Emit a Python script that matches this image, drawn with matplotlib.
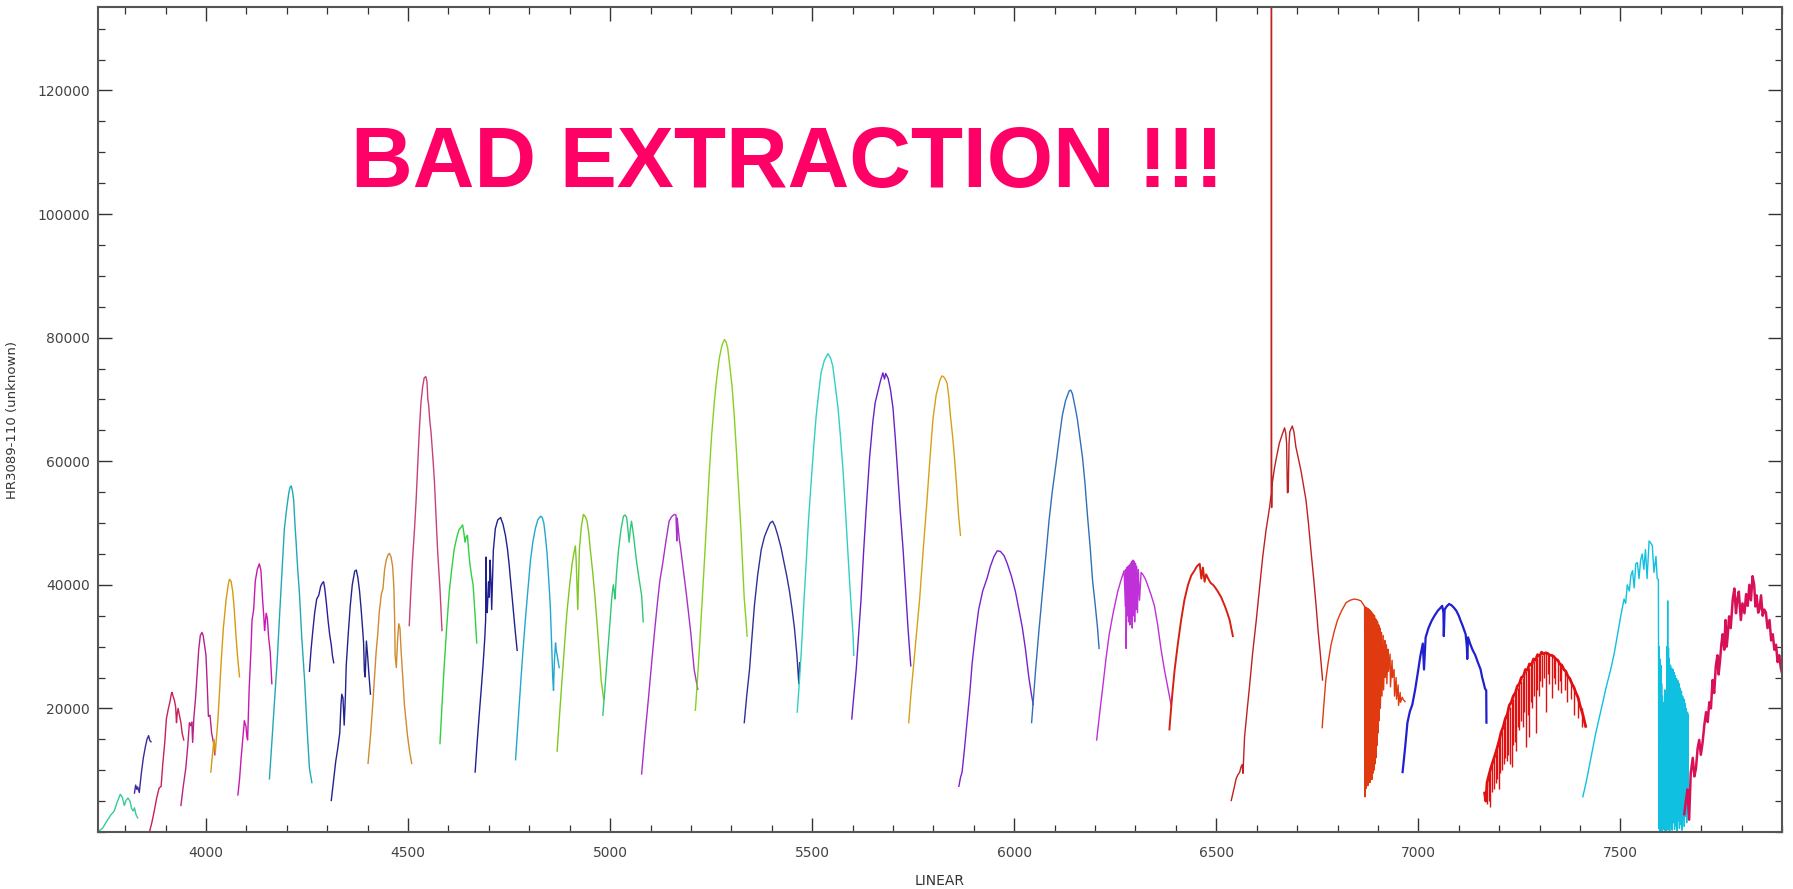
#!/usr/bin/env python
# -*- coding: utf-8 -*-

import matplotlib
matplotlib.use("Agg")
import matplotlib.pyplot as plt
from matplotlib.ticker import MultipleLocator

# ordenes echelle extraidos: longitud de onda (A) y cuentas

o01_w = [3733, 3745, 3755, 3765, 3773, 3780, 3788, 3793, 3798, 3802, 3807, 3812, 3816, 3820, 3823, 3827, 3831]
o01_f = [0, 700, 1800, 2800, 3400, 4800, 6100, 5600, 4300, 5100, 5500, 5000, 3800, 3400, 3900, 2800, 2300]

o02_w = [3823, 3826, 3829, 3831, 3835, 3840, 3845, 3850, 3854, 3858, 3861, 3864]
o02_f = [6300, 7600, 6900, 7300, 6400, 9500, 12000, 13800, 15000, 15600, 14800, 14600]

o03_w = [3860, 3866, 3872, 3878, 3884, 3889, 3893, 3898, 3902, 3907, 3911, 3914, 3916, 3919, 3922, 3925,
         3927, 3929, 3931, 3934, 3938, 3941, 3945]
o03_f = [0, 1500, 3400, 5500, 7100, 7400, 10900, 14500, 18300, 20000, 21100, 22300, 22600, 21900, 21300, 20200,
         17700, 19200, 20000, 19000, 17700, 16000, 14900]

o04_w = [3938, 3944, 3950, 3955, 3959, 3962, 3965, 3967, 3970, 3974, 3978, 3982, 3986, 3990, 3993, 3997,
         4000, 4003, 4006, 4010, 4014, 4019, 4022]
o04_f = [4300, 7500, 10300, 14000, 17700, 17200, 17800, 14500, 18500, 21500, 25500, 29500, 31800, 32300, 31800, 30000,
         28600, 24000, 18700, 18900, 16000, 14300, 12500]

o05_w = [4012, 4016, 4020, 4023, 4025, 4029, 4033, 4037, 4043, 4050, 4055, 4058, 4062, 4066, 4070, 4074, 4078, 4083]
o05_f = [9700, 12500, 15000, 12800, 14500, 17700, 22000, 26900, 33000, 37700, 40000, 40900, 40600, 39000, 36000,
         32000, 28500, 25100]

o06_w = [4079, 4083, 4087, 4091, 4095, 4097, 4099, 4101, 4103, 4107, 4111, 4114, 4118, 4122, 4127, 4132, 4136,
         4138, 4140, 4143, 4145, 4147, 4149, 4152, 4155, 4159, 4163]
o06_f = [6000, 8500, 12000, 15000, 18000, 17500, 17100, 15500, 14900, 23400, 29000, 34300, 36000, 40600, 42500,
         43400, 42300, 40000, 37700, 35000, 32600, 34000, 35400, 34500, 31500, 29100, 24000]

o07_w = [4157, 4163, 4169, 4176, 4182, 4188, 4194, 4200, 4205, 4208, 4211, 4214, 4217, 4220, 4223, 4227, 4231,
         4237, 4244, 4250, 4256, 4262]
o07_f = [8600, 14500, 20600, 27500, 34900, 42000, 49100, 52500, 54900, 55800, 56000, 55200, 53700, 50000, 46900,
         42500, 38900, 31500, 24600, 17000, 10300, 8000]

o08_w = [4256, 4260, 4264, 4269, 4274, 4279, 4284, 4288, 4291, 4294, 4298, 4302, 4306, 4310, 4313, 4316]
o08_f = [26000, 29500, 32300, 35500, 37700, 38300, 39800, 40300, 40500, 39400, 37000, 34300, 32000, 30300, 28500,
         27400]

o09_w = [4310, 4316, 4321, 4326, 4331, 4334, 4336, 4339, 4342, 4345, 4347, 4352, 4357, 4362, 4368, 4372, 4376,
         4380, 4384, 4388, 4390, 4392, 4394, 4397, 4400, 4403, 4407]
o09_f = [5100, 8500, 11400, 13500, 16000, 20500, 22300, 21700, 17300, 22000, 26900, 32000, 36600, 40000, 42200,
         42400, 41100, 39000, 36000, 32500, 30600, 26000, 25100, 30900, 28500, 25700, 22300]

o10_w = [4401, 4407, 4412, 4417, 4421, 4425, 4429, 4434, 4438, 4442, 4446, 4450, 4454, 4458, 4462, 4465, 4467,
         4468, 4471, 4474, 4477, 4480, 4483, 4487, 4491, 4495, 4499, 4504, 4509]
o10_f = [11100, 15500, 20000, 25000, 29100, 32000, 35700, 38500, 39400, 42500, 44000, 44800, 45100, 44500, 42900,
         39500, 34000, 28600, 26600, 31000, 33700, 33000, 29100, 25000, 20600, 18000, 15400, 13000, 11100]

o11_w = [4503, 4507, 4511, 4516, 4520, 4524, 4528, 4532, 4536, 4540, 4544, 4547, 4549, 4551, 4554, 4557, 4561,
         4565, 4569, 4573, 4576, 4579, 4584]
o11_f = [33400, 39000, 44000, 49000, 53700, 59500, 65100, 69500, 72000, 73500, 73700, 72800, 70000, 69100, 66500,
         64600, 61000, 57100, 51500, 45700, 42500, 39400, 32600]

o12_w = [4579, 4584, 4589, 4595, 4602, 4608, 4614, 4620, 4626, 4631, 4635, 4638, 4641, 4644, 4647, 4650, 4653,
         4657, 4661, 4666, 4670]
o12_f = [14300, 20500, 26300, 32500, 38900, 42500, 45700, 47500, 48900, 49300, 49700, 48500, 46900, 47800, 48000,
         45500, 43400, 41500, 40000, 35000, 30600]

o13_w = [4666, 4671, 4676, 4681, 4686, 4690, 4692, 4693, 4694, 4696, 4699, 4701, 4703, 4705, 4707, 4711, 4716,
         4722, 4729, 4735, 4741, 4746, 4750, 4754, 4758, 4762, 4766, 4770]
o13_f = [9700, 14500, 18900, 23000, 27400, 31500, 34300, 44500, 37000, 35500, 40500, 38000, 44000, 41000, 36000,
         45500, 49100, 50500, 50900, 49800, 48000, 45800, 43400, 40500, 37700, 34800, 32000, 29400]

o14_w = [4766, 4772, 4778, 4784, 4791, 4797, 4803, 4809, 4815, 4821, 4828, 4832, 4836, 4840, 4844, 4848, 4852,
         4856, 4858, 4860, 4862, 4865, 4867, 4869, 4871, 4874]
o14_f = [11700, 17500, 23400, 29000, 34900, 39500, 44000, 47000, 49100, 50500, 51100, 50900, 50000, 47800, 45100,
         41000, 36600, 29100, 25000, 22900, 27500, 30600, 29300, 28600, 27800, 26600]

o15_w = [4869, 4875, 4881, 4887, 4893, 4900, 4906, 4910, 4914, 4916, 4918, 4920, 4922, 4924, 4929, 4934, 4939,
         4943, 4947, 4951, 4957, 4963, 4968, 4973, 4978, 4984]
o15_f = [13100, 19000, 24600, 30000, 35400, 40000, 43400, 45000, 46300, 44000, 40000, 36000, 41000, 45700, 49500,
         51400, 51000, 50300, 48500, 45700, 42000, 37700, 33500, 29100, 24500, 21500]

o16_w = [4982, 4987, 4992, 4998, 5004, 5006, 5008, 5010, 5012, 5016, 5021, 5027, 5033, 5037, 5041, 5044, 5047,
         5050, 5053, 5058, 5062, 5066, 5070, 5074, 5078, 5082]
o16_f = [18900, 23000, 27400, 32500, 37700, 39000, 40000, 39000, 37700, 42000, 45700, 49000, 51100, 51300, 50900,
         49000, 46900, 49000, 50300, 48000, 45700, 43500, 41700, 40000, 38300, 34000]

o17_w = [5078, 5086, 5095, 5103, 5111, 5117, 5123, 5130, 5138, 5146, 5152, 5159, 5163, 5165, 5166, 5168, 5171,
         5175, 5181, 5188, 5194, 5200, 5204, 5208, 5213, 5217]
o17_f = [9400, 15500, 21700, 27500, 33100, 37000, 40600, 43400, 47000, 50300, 51000, 51400, 51300, 47100, 50800,
         49500, 47500, 45700, 42500, 38900, 35500, 32000, 29000, 26300, 24500, 23100]

o18_w = [5211, 5216, 5221, 5227, 5233, 5239, 5245, 5251, 5258, 5264, 5270, 5277, 5283, 5287, 5291, 5296, 5302,
         5307, 5312, 5318, 5324, 5328, 5332, 5336, 5339]
o18_f = [19700, 24500, 29700, 36500, 43400, 50500, 57700, 64000, 69700, 73500, 76600, 78800, 79700, 79300, 78300,
         75500, 72000, 67500, 62300, 55500, 48600, 43000, 37700, 34500, 31700]

o19_w = [5332, 5338, 5345, 5351, 5357, 5365, 5374, 5382, 5390, 5396, 5402, 5408, 5415, 5423, 5431, 5437, 5444,
         5450, 5456, 5462, 5467, 5469]
o19_f = [17700, 22000, 26300, 31500, 36600, 41500, 45700, 47800, 49100, 50000, 50300, 49500, 48000, 46000, 43400,
         41500, 38900, 36200, 33100, 28800, 24000, 27400]

o20_w = [5463, 5468, 5473, 5479, 5485, 5491, 5498, 5504, 5510, 5516, 5522, 5530, 5539, 5545, 5551, 5557, 5564,
         5570, 5576, 5582, 5588, 5594, 5601, 5603]
o20_f = [19400, 24000, 29100, 36500, 43400, 50500, 57100, 62500, 67400, 71000, 74300, 76300, 77400, 76800, 75400,
         72300, 68600, 64000, 58900, 52500, 45700, 39000, 32000, 28600]

o21_w = [5598, 5603, 5609, 5615, 5621, 5627, 5634, 5642, 5650, 5656, 5663, 5669, 5675, 5679, 5682, 5688, 5694,
         5700, 5706, 5712, 5718, 5725, 5731, 5737, 5744]
o21_f = [18300, 22000, 26300, 32000, 37700, 45000, 52600, 60500, 66300, 69500, 71400, 73000, 74300, 73300, 74200,
         73400, 71500, 68600, 63500, 57700, 51800, 45700, 39500, 33100, 26900]

o22_w = [5739, 5744, 5750, 5758, 5766, 5774, 5783, 5791, 5799, 5807, 5816, 5821, 5825, 5830, 5834, 5838, 5842,
         5846, 5850, 5854, 5858, 5862, 5867]
o22_f = [17700, 22000, 26300, 32000, 37700, 45000, 52600, 60000, 66900, 70800, 73100, 73800, 73700, 73200, 72600,
         70500, 67400, 65000, 62300, 59000, 55400, 51500, 48000]

o23_w = [5863, 5867, 5871, 5877, 5883, 5890, 5896, 5904, 5912, 5922, 5933, 5941, 5950, 5958, 5966, 5975, 5983,
         5993, 6003, 6011, 6020, 6028, 6036, 6042, 6047]
o23_f = [7400, 8800, 9700, 13500, 17700, 22500, 27400, 32000, 36000, 39000, 41100, 43000, 44600, 45500, 45400,
         44700, 43400, 41400, 38900, 36200, 33100, 29500, 25100, 22500, 20600]

o24_w = [6043, 6048, 6053, 6061, 6070, 6078, 6086, 6094, 6103, 6111, 6119, 6127, 6136, 6140, 6144, 6150, 6156,
         6162, 6169, 6175, 6181, 6188, 6194, 6200, 6206, 6210]
o24_f = [17700, 22000, 26300, 32500, 38900, 44500, 50300, 55000, 59400, 63500, 67400, 69800, 71400, 71500, 70900,
         69000, 66900, 64000, 60600, 56500, 51400, 46000, 40600, 37000, 33100, 29700]

o25_w = [6204, 6211, 6219, 6227, 6235, 6245, 6256, 6264, 6272, 6275, 6276, 6277, 6279, 6280, 6282, 6283, 6285,
         6286, 6288, 6289, 6291, 6292, 6294, 6295, 6297, 6298, 6300, 6301, 6303, 6305, 6307, 6310, 6314, 6318,
         6324, 6330, 6338, 6347, 6355, 6363, 6371, 6380, 6388]
o25_f = [14900, 19000, 23400, 28000, 32000, 35500, 38900, 40700, 42300, 36500, 42500, 29700, 42800, 35000, 43000,
         34000, 43200, 33500, 43500, 34500, 43800, 33000, 44000, 35000, 43800, 34000, 43500, 36000, 43000, 35500,
         42500, 37500, 42000, 41700, 41000, 40000, 38500, 36600, 33500, 29700, 26500, 23400, 20600]

o26_w = [6384, 6390, 6397, 6405, 6413, 6421, 6430, 6438, 6446, 6452, 6459, 6463, 6467, 6471, 6475, 6480, 6486,
         6492, 6498, 6504, 6512, 6521, 6527, 6533, 6541]
o26_f = [16600, 21500, 26300, 30500, 34300, 37500, 40000, 41500, 42300, 43000, 43400, 41000, 42800, 40500, 41700,
         41000, 40300, 40000, 39500, 38900, 38000, 36600, 35500, 34300, 31700]

# orden con H-alfa y el pixel malo en 6636
o27_w = [6537, 6543, 6549, 6553, 6558, 6561, 6564, 6566, 6570, 6576, 6582, 6590, 6599, 6607, 6615, 6623, 6632,
         6636, 6636.5, 6637, 6637.5, 6644, 6650, 6656, 6663, 6669, 6672, 6674, 6676, 6678, 6680, 6682, 6688, 6692,
         6697, 6703, 6710, 6716, 6722, 6728, 6734, 6741, 6747, 6752, 6757, 6763]
o27_f = [5100, 6800, 8600, 9200, 9700, 10500, 10900, 9500, 15400, 19500, 23400, 29000, 34300, 39500, 44600, 48800,
         52600, 54800, 133500, 52500, 56000, 58900, 61000, 62900, 64300, 65400, 64500, 62900, 54900, 55000, 62900,
         64800, 65700, 64800, 62300, 60500, 58300, 56000, 53700, 50000, 45700, 41000, 36600, 32500, 29100, 24600]

# banda B del O2
o28_w = [6762, 6766, 6771, 6777, 6784, 6792, 6800, 6810, 6821, 6831, 6841, 6850, 6858, 6862, 6866,
         6867, 6868, 6869, 6870, 6871.5, 6872.5, 6874, 6875, 6876.5, 6877.5, 6879, 6880, 6881.5, 6882.5, 6884,
         6885, 6886.5, 6887.5, 6889, 6890, 6891.5, 6892.5, 6894, 6895, 6896.5, 6897.5, 6899, 6900, 6902, 6903,
         6905, 6906, 6909, 6910, 6913, 6914, 6917, 6918, 6921, 6922, 6925, 6926, 6930, 6931, 6935, 6936, 6940,
         6941, 6945, 6946, 6950, 6951, 6955, 6956, 6960, 6963, 6967]
o28_f = [16900, 20500, 24600, 27500, 30300, 32500, 34300, 35800, 37100, 37500, 37700, 37600, 37400, 37000, 36600,
         36500, 5700, 36400, 7000, 36300, 8000, 36200, 7500, 36100, 8500, 36000, 8000, 35800, 9000, 35600,
         8500, 35400, 9500, 35200, 10000, 35000, 11000, 34500, 12000, 34300, 14000, 34000, 16000, 33500, 18000,
         33000, 20000, 32300, 22000, 31800, 23000, 31000, 25000, 30300, 24000, 29600, 26000, 28800, 23500, 27800,
         25000, 26300, 22000, 25000, 21500, 23800, 20500, 22600, 21000, 21800, 21400, 21100]

o29_w = [6961, 6967, 6973, 6979, 6985, 6992, 6998, 7005, 7011, 7014, 7018, 7025, 7033, 7040, 7048, 7055, 7059,
         7062, 7063, 7065, 7070, 7076, 7082, 7088, 7094, 7100, 7104, 7110, 7117, 7120, 7121, 7123, 7128, 7134,
         7141, 7147, 7154, 7158, 7162, 7165, 7168, 7168.5]
o29_f = [9700, 13500, 17700, 19500, 20600, 23000, 25500, 28500, 30500, 26300, 31500, 33000, 34200, 35000, 35800,
         36300, 36600, 35500, 31700, 36000, 36500, 36900, 36700, 36300, 35800, 35000, 34300, 33300, 32000, 30000,
         28000, 31500, 30500, 29500, 28600, 27500, 26300, 25000, 24000, 23200, 22900, 17700]

o30_w = [7164, 7167, 7170, 7175, 7180, 7185, 7190, 7195, 7200, 7205, 7210, 7215, 7220, 7225, 7230, 7235, 7240,
         7245, 7250, 7255, 7260, 7265, 7270, 7275, 7280, 7285, 7290, 7295, 7300, 7305, 7310, 7315, 7320, 7325,
         7330, 7335, 7340, 7345, 7350, 7355, 7360, 7365, 7370, 7375, 7380, 7385, 7390, 7395, 7400, 7407, 7414]
o30_f = [6300, 5000, 8000, 9300, 10500, 11500, 12500, 13600, 14800, 16200, 17000, 18300, 19000, 20500, 21000,
         22000, 22500, 23600, 24000, 25000, 25200, 26300, 26200, 27200, 27000, 28000, 27800, 28700, 28400, 29100,
         28800, 29000, 28900, 28600, 28600, 28400, 28000, 27800, 27200, 27000, 26300, 26000, 25200, 24800, 24000,
         23400, 22500, 21800, 20500, 19000, 17100]

# lineas teluricas de H2O en el orden 30: posicion, tope y fondo
h2o_w = [7170, 7175, 7178, 7183, 7187, 7191, 7195, 7199, 7203, 7207, 7211, 7215, 7219, 7223, 7227, 7231, 7235,
         7239, 7242, 7246, 7250, 7254, 7258, 7262, 7267, 7271, 7274, 7278, 7282, 7286, 7290, 7294, 7298, 7302,
         7305, 7310, 7317, 7321, 7324, 7331, 7335, 7338, 7346, 7350, 7354, 7362, 7369, 7378, 7386, 7395, 7405]
h2o_tope = [8000, 9300, 10000, 11000, 11800, 12700, 13600, 14600, 15500, 16400, 17200, 18000, 18800, 19600, 20300,
            21000, 21500, 22300, 22800, 23300, 24000, 24500, 25000, 25500, 26000, 26400, 26600, 27000, 27300,
            27600, 27800, 28100, 28300, 28500, 28600, 28800, 28900, 28900, 28800, 28600, 28400, 28200, 27700,
            27200, 26800, 26000, 25400, 24200, 23000, 21800, 20000]
h2o_fondo = [4500, 5000, 4000, 6500, 7000, 8000, 8500, 6900, 9500, 10000, 11000, 12000, 11500, 12500, 11000,
             10600, 14000, 14500, 13100, 17000, 16500, 18000, 17000, 19500, 13700, 19000, 15400, 21000, 20000,
             22000, 16000, 23000, 22000, 24500, 23500, 25000, 19400, 25500, 24000, 21700, 25000, 24000, 23000,
             24500, 22500, 23000, 21100, 21500, 19000, 18500, 17000]

# banda A del O2
o31_w = [7407, 7415, 7422, 7430, 7439, 7447, 7455, 7465, 7476, 7485, 7493, 7501, 7509, 7513, 7517, 7522, 7526,
         7530, 7534, 7538, 7542, 7546, 7550, 7554, 7558, 7562, 7566, 7571, 7575, 7579, 7583, 7588, 7591, 7594,
         7595, 7596, 7597, 7598, 7599, 7600, 7601, 7602, 7603, 7604, 7605, 7606, 7607, 7608, 7609, 7610, 7611,
         7612, 7613, 7615, 7616, 7617, 7618, 7619, 7620, 7621, 7622, 7624, 7625, 7627, 7628, 7630, 7631, 7633,
         7634, 7636, 7637, 7639, 7640, 7642, 7643, 7645, 7646, 7648, 7649, 7651, 7652, 7654, 7655, 7657, 7658,
         7660, 7661, 7663, 7664, 7666, 7667, 7668]
o31_f = [5700, 8000, 10300, 13000, 16000, 18300, 20600, 23500, 26300, 29000, 32000, 35000, 37700, 37000, 40000,
         39000, 41500, 42300, 39500, 43400, 43600, 41000, 44000, 45000, 42500, 45700, 41000, 47100, 46800, 46300,
         42000, 44600, 41000, 40900,
         600, 30000, 200, 28000, 300, 27000, 800, 24000, 100, 22000, 1500, 20000, 500, 21000, 300, 23000, 900,
         21000, 200, 30000, 600, 37400, 300, 29700, 1200, 28000, 200, 27000, 800, 26500, 300, 26300, 1500, 25800,
         400, 25300, 1000, 24800, 200, 24500, 1800, 24000, 600, 23300, 1200, 22800, 300, 22000, 2000, 21500, 900,
         20800, 2500, 20000, 1500, 19400, 3000, 19000]

o32_w = [7658, 7662, 7666, 7670, 7674, 7679, 7683, 7687, 7691, 7695, 7699, 7703, 7708, 7712, 7716, 7720, 7724,
         7728, 7732, 7736, 7740, 7743, 7746, 7750, 7753, 7757, 7760, 7763, 7765, 7769, 7773, 7778, 7782, 7786,
         7789, 7793, 7798, 7802, 7807, 7811, 7815, 7819, 7823, 7827, 7831, 7834, 7837, 7841, 7844, 7848, 7852,
         7856, 7860, 7864, 7869, 7873, 7877, 7881, 7885, 7889, 7893, 7897, 7900]
o32_f = [2900, 5000, 6900, 2000, 9500, 12000, 9000, 10300, 13500, 14900, 12500, 14300, 17500, 19400, 17800,
         21000, 20000, 24600, 22500, 26800, 28600, 25500, 27400, 30500, 32000, 29500, 34300, 30000, 31400, 34900,
         33000, 37700, 39400, 35400, 37500, 38900, 34300, 37000, 35400, 38500, 36600, 40000, 37500, 41400, 40000,
         36500, 38300, 35500, 36000, 38300, 35000, 36000, 35500, 33000, 34300, 31000, 32000, 29500, 30300, 27500,
         28600, 26500, 25700]

colores = ["#33cc99", "#3a2a9a", "#c8205a", "#b8208a", "#d89a10", "#c818b0", "#20a8b8", "#2a1e9a",
           "#23238c", "#d08a30", "#c8407a", "#30d040", "#202090", "#20a8d0", "#80c820", "#30c878",
           "#a830c8", "#88d020", "#303098", "#30d0c0", "#6a20c8", "#d8a018", "#7a20d0", "#3070b8",
           "#c030d8", "#d82010", "#c02020", "#e03a10", "#2020d0", "#e01010", "#10c0e0", "#d81058"]

# los ordenes mas ruidosos se ven mas gruesos
grosores = [1.0] * 25 + [1.4, 1.0, 1.0, 1.6, 2.0, 1.0, 1.8]


def grafica_ordenes(ruta_salida):
    ordenes = [(o01_w, o01_f), (o02_w, o02_f), (o03_w, o03_f), (o04_w, o04_f),
               (o05_w, o05_f), (o06_w, o06_f), (o07_w, o07_f), (o08_w, o08_f),
               (o09_w, o09_f), (o10_w, o10_f), (o11_w, o11_f), (o12_w, o12_f),
               (o13_w, o13_f), (o14_w, o14_f), (o15_w, o15_f), (o16_w, o16_f),
               (o17_w, o17_f), (o18_w, o18_f), (o19_w, o19_f), (o20_w, o20_f),
               (o21_w, o21_f), (o22_w, o22_f), (o23_w, o23_f), (o24_w, o24_f),
               (o25_w, o25_f), (o26_w, o26_f), (o27_w, o27_f), (o28_w, o28_f),
               (o29_w, o29_f), (o30_w, o30_f), (o31_w, o31_f), (o32_w, o32_f)]

    fig = plt.figure(figsize=(17.93, 8.89), dpi=100)
    ax = fig.add_axes([0.0547, 0.0641, 0.9392, 0.928])

    for (onda, cuentas), color, grosor in zip(ordenes, colores, grosores):
        ax.plot(onda, cuentas, color=color, linewidth=grosor)

    ax.vlines(h2o_w, h2o_fondo, h2o_tope, color=colores[29], linewidth=1.0)

    # los limites salen de los propios datos
    ax.margins(0)

    ax.set_xticks(range(4000, 7501, 500))
    ax.set_yticks(range(20000, 120001, 20000))
    ax.xaxis.set_minor_locator(MultipleLocator(100))
    ax.yaxis.set_minor_locator(MultipleLocator(5000))
    ax.tick_params(which="both", direction="in", top=True, right=True,
                   color="#333333", labelcolor="#444444", labelsize=10)
    ax.tick_params(which="major", length=10, width=1.0)
    ax.tick_params(which="minor", length=5, width=0.9)
    ax.tick_params(axis="x", which="major", pad=10)
    ax.tick_params(axis="y", which="major", pad=6)

    for lado in ax.spines.values():
        lado.set_color("#555555")
        lado.set_linewidth(1.5)

    ax.set_xlabel("LINEAR", fontsize=10, color="#333333", labelpad=10)
    ax.set_ylabel("HR3089-110 (unknown)", fontsize=9.5, color="#333333", labelpad=13)

    ax.text(0.4094, 0.782, "BAD EXTRACTION !!!", transform=ax.transAxes,
            ha="center", va="baseline", fontsize=61.5, fontweight="bold",
            color="#ff0066", family=["Liberation Sans", "DejaVu Sans"])

    fig.savefig(ruta_salida, dpi=100)


def main():
    grafica_ordenes("out.png")


if __name__ == "__main__":
    main()
